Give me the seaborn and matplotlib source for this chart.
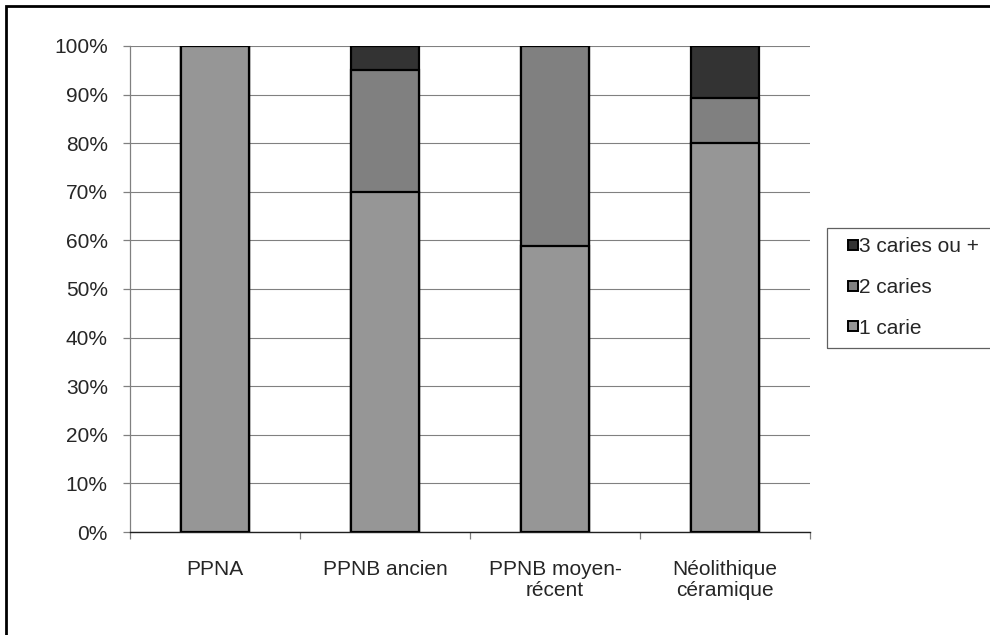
import numpy as np
import pandas as pd
import matplotlib
matplotlib.use('Agg')
import matplotlib.pyplot as plt
from matplotlib.patches import Rectangle
from matplotlib.ticker import PercentFormatter
import seaborn as sns

periods = ['PPNA', 'PPNB ancien', 'PPNB moyen-\nrécent', 'Néolithique\ncéramique']
one_carie = [100, 70, 58.8, 80]
two_caries = [0, 25, 41.2, 9.2]
three_caries = [0, 5, 0, 10.8]

series_names = ['1 carie', '2 caries', '3 caries ou +']
series_colors = ['#969696', '#808080', '#333333']

df = pd.DataFrame({'period': periods, '1 carie': one_carie,
                   '2 caries': two_caries, '3 caries ou +': three_caries})
df['c1'] = df['1 carie']
df['c2'] = df['c1'] + df['2 caries']
df['c3'] = df['c2'] + df['3 caries ou +']

sns.set_style('white')
plt.rcParams['font.family'] = ['Liberation Sans', 'DejaVu Sans']
FS = 15

fig = plt.figure(figsize=(9.9, 6.35), dpi=100)
ax = fig.add_axes([130 / 990, (635 - 532) / 635, 680 / 990, 486 / 635])

# stacked: draw tallest first, then overlay lower segments
for col, color in zip(['c3', 'c2', 'c1'], series_colors[::-1]):
    sns.barplot(data=df, x='period', y=col, color=color, width=0.4,
                edgecolor='black', linewidth=1.6, saturation=1, ax=ax, zorder=3)

ax.set_ylim(0, 100)
ax.set_xlim(-0.5, 3.5)
ax.set_yticks(np.arange(0, 101, 10))
ax.yaxis.set_major_formatter(PercentFormatter(decimals=0))
ax.grid(axis='y', color='#808080', linewidth=0.8, zorder=0)
ax.set_axisbelow(True)
for s in ['top', 'right']:
    ax.spines[s].set_visible(False)
ax.spines['left'].set_color('#808080')
ax.spines['left'].set_linewidth(0.9)
ax.spines['bottom'].set_color('#202020')
ax.spines['bottom'].set_linewidth(1.0)
ax.set_xlabel('')
ax.set_ylabel('')
ax.tick_params(axis='y', which='major', length=5, color='#808080', width=0.9,
               labelsize=FS, pad=11, left=True)
ax.set_xticks(range(4))
ax.set_xticklabels(periods, fontsize=FS, linespacing=1.12)
ax.tick_params(axis='x', which='major', length=0, pad=20)
ax.set_xticks(np.arange(-0.5, 4, 1), minor=True)
ax.tick_params(axis='x', which='minor', length=5, color='#808080', width=0.9, bottom=True)
for lab in ax.get_xticklabels():
    lab.set_verticalalignment('top')

handles = [plt.Line2D([], [], marker='s', linestyle='none', markersize=7.5,
                      markerfacecolor=c, markeredgecolor='black', markeredgewidth=1.4)
           for c in series_colors]
leg = fig.legend(handles[::-1], series_names[::-1], loc='upper left',
                 bbox_to_anchor=(827 / 990, 1 - 228 / 635), fontsize=FS,
                 frameon=False, handletextpad=-0.5, handlelength=1.6,
                 labelspacing=1.04, borderpad=0.45, borderaxespad=0)

# legend box runs off the right edge in the original
fig.patches.append(Rectangle((827 / 990, 1 - 348 / 635), 0.3, 120 / 635,
                             transform=fig.transFigure, fill=False,
                             edgecolor='#606060', linewidth=0.9))

fig.patches.append(Rectangle((6 / 990, -0.1), 1.2, 1 - 6 / 635 + 0.1,
                             transform=fig.transFigure, fill=False,
                             edgecolor='black', linewidth=2))

fig.savefig('out.png', dpi=100)
